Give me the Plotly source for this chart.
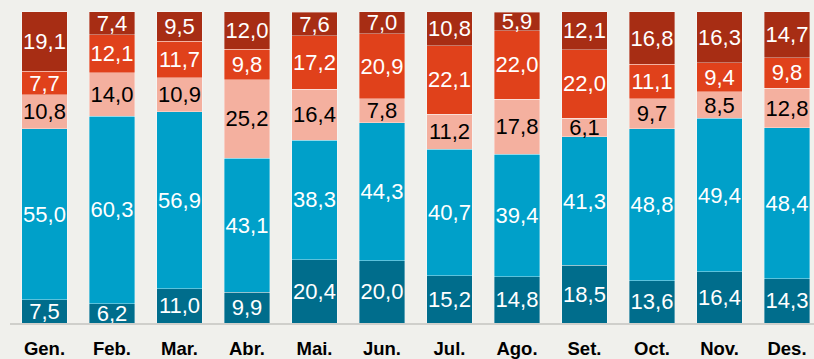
import plotly.graph_objects as go

months = ["Gen.", "Feb.", "Mar.", "Abr.", "Mai.", "Jun.", "Jul.", "Ago.", "Set.", "Oct.", "Nov.", "Des."]

# Shares per month (%), bottom to top of each stack
seg1 = [7.5, 6.2, 11.0, 9.9, 20.4, 20.0, 15.2, 14.8, 18.5, 13.6, 16.4, 14.3]
seg2 = [55.0, 60.3, 56.9, 43.1, 38.3, 44.3, 40.7, 39.4, 41.3, 48.8, 49.4, 48.4]
seg3 = [10.8, 14.0, 10.9, 25.2, 16.4, 7.8, 11.2, 17.8, 6.1, 9.7, 8.5, 12.8]
seg4 = [7.7, 12.1, 11.7, 9.8, 17.2, 20.9, 22.1, 22.0, 22.0, 11.1, 9.4, 9.8]
seg5 = [19.1, 7.4, 9.5, 12.0, 7.6, 7.0, 10.8, 5.9, 12.1, 16.8, 16.3, 14.7]

series = [
    (seg1, "#006d8c", "white"),
    (seg2, "#00a0c9", "white"),
    (seg3, "#f4b09f", "black"),
    (seg4, "#e0411b", "white"),
    (seg5, "#a72d14", "white"),
]

fig = go.Figure()
for vals, color, tcolor in series:
    fig.add_trace(go.Bar(
        x=months,
        y=vals,
        marker=dict(color=color, line=dict(color="rgba(255,255,255,0.45)", width=0.8)),
        texttemplate="%{y:.1f}",
        textposition="inside",
        insidetextanchor="middle",
        textangle=0,
        constraintext="none",
        insidetextfont=dict(family="Liberation Sans, Arial, sans-serif", size=22, color=tcolor),
        hoverinfo="skip",
        showlegend=False,
    ))

fig.update_layout(
    barmode="stack",
    bargap=0.333,
    separators=",.",
    width=814,
    height=359,
    margin=dict(l=10, r=0, t=11, b=36),
    paper_bgcolor="#f0f0ec",
    plot_bgcolor="#f0f0ec",
    xaxis=dict(
        range=[-0.511, 11.4],
        showline=True,
        linecolor="#cfcfcb",
        linewidth=2,
        ticks="",
        ticklabelstandoff=8,
        tickfont=dict(family="Liberation Sans, Arial, sans-serif", size=18.5, color="black", weight="bold"),
        showgrid=False,
    ),
    yaxis=dict(
        range=[0, 100.3],
        visible=False,
        showgrid=False,
    ),
)

fig.write_html("out.html")
